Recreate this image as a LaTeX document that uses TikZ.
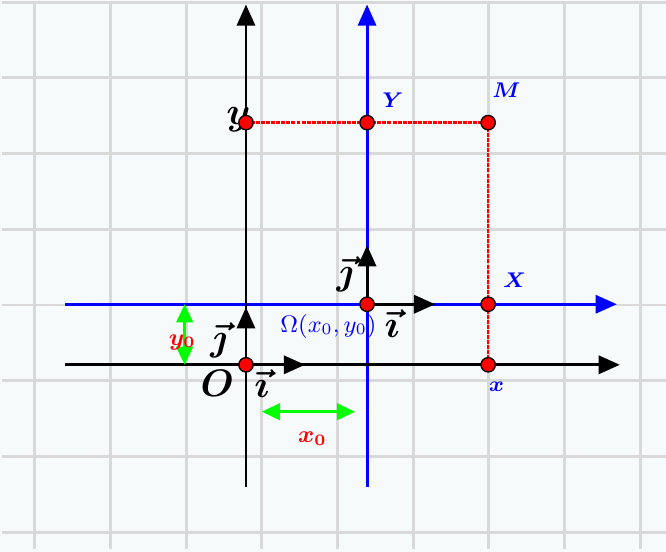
\documentclass[tikz,border=0pt]{standalone}
\usepackage{amsmath}
\usetikzlibrary{arrows.meta}
\definecolor{fond}{HTML}{F7FAFB}
\definecolor{grille}{HTML}{D9D9D9}

\begin{document}
\begin{tikzpicture}[
        fleche/.style={line width=1.1pt, -{Triangle[length=0.28cm, width=0.24cm]}},
        mesure/.style={green, line width=1pt, {Triangle[length=0.24cm, width=0.22cm]}-{Triangle[length=0.24cm, width=0.22cm]}},
        pointille/.style={red, line width=1pt, dash pattern=on 1.5pt off 0.4pt},
        point/.style={circle, fill=red, draw=black, line width=0.5pt, inner sep=0pt, minimum size=0.19cm},
        etiquette/.style={blue, font=\footnotesize\boldmath},
        vecteur/.style={font=\Large\boldmath},
    ]
        \useasboundingbox[fill=fond] (-3.25, -2.47) rectangle (5.55, 4.82);
        % quadrillage de fond
        \foreach \abscisse in {-2.79, -1.79, ..., 5.3} {
            \draw[grille, line width=1.1pt] (\abscisse, -2.43) -- (\abscisse, 4.8);
        }
        \foreach \ordonnee in {-2.21, -1.21, ..., 4.9} {
            \draw[grille, line width=1.1pt] (-3.22, \ordonnee) -- (5.55, \ordonnee);
        }
        % les points
        \coordinate (O) at (0, 0);
        \coordinate (Omega) at (1.6, 0.8);
        \coordinate (M) at (3.2, 3.2);
        \coordinate (My) at (0, 3.2);
        \coordinate (MY) at (1.6, 3.2);
        \coordinate (MX) at (3.2, 0.8);
        \coordinate (Mx) at (3.2, 0);
        % bouts des axes
        \coordinate (xdebut) at (-2.39, 0);
        \coordinate (xfin) at (4.94, 0);
        \coordinate (ydebut) at (0, -1.61);
        \coordinate (yfin) at (0, 4.76);
        \coordinate (Xdebut) at (-2.39, 0.8);
        \coordinate (Xfin) at (4.90, 0.8);
        \coordinate (Ydebut) at (1.6, -1.61);
        \coordinate (Yfin) at (1.6, 4.76);
        \coordinate (iO) at (0.78, 0);
        \coordinate (jO) at (0, 0.76);
        \coordinate (iOmega) at (2.5, 0.8);
        \coordinate (jOmega) at (1.6, 1.58);
        \coordinate (x0debut) at (0.21, -0.62);
        \coordinate (x0fin) at (1.44, -0.62);
        \coordinate (y0debut) at (-0.81, 0.8);
        \coordinate (y0fin) at (-0.81, 0);
        % repère bleu puis repère noir
        \draw[fleche, blue] (Xdebut) -- (Xfin);
        \draw[fleche, blue] (Ydebut) -- (Yfin);
        \draw[fleche] (xdebut) -- (xfin);
        \draw[fleche] (ydebut) -- (yfin);
        \draw[fleche] (O) -- (iO);
        \draw[fleche] (O) -- (jO);
        \draw[fleche] (Omega) -- (iOmega);
        \draw[fleche] (Omega) -- (jOmega);
        \draw[mesure] (x0debut) -- (x0fin);
        \draw[mesure] (y0debut) -- (y0fin);
        \draw[pointille] (My) -- (M) -- (Mx);
        \node[vecteur] (lab-y) at (-0.10, 3.24) {$y$};
        \foreach \p in {O, Omega, M, My, MY, MX, Mx} {
            \node[point] (pt-\p) at (\p) {};
        }
        % textes
        \node[vecteur] (lab-O) at (-0.38, -0.24) {$O$};
        \node[vecteur] (lab-iO) at (0.21, -0.25) {$\vec{\imath}$};
        \node[vecteur] (lab-jO) at (-0.36, 0.32) {$\vec{\jmath}$};
        \node[vecteur] (lab-jOmega) at (1.31, 1.19) {$\vec{\jmath}$};
        \node[vecteur] (lab-iOmega) at (1.93, 0.55) {$\vec{\imath}$};
        \node[blue, font=\small] (lab-Omega) at (1.09, 0.51) {$\Omega(x_0, y_0)$};
        \node[etiquette] (lab-Y) at (1.94, 3.5) {$Y$};
        \node[etiquette] (lab-M) at (3.44, 3.63) {$M$};
        \node[etiquette] (lab-X) at (3.55, 1.12) {$X$};
        \node[etiquette] (lab-x) at (3.31, -0.29) {$x$};
        \node[etiquette, red, font=\small\boldmath] (lab-y0) at (-0.84, 0.30) {$y_0$};
        \node[etiquette, red, font=\small\boldmath] (lab-x0) at (0.88, -0.98) {$x_0$};
    \end{tikzpicture}
\end{document}
